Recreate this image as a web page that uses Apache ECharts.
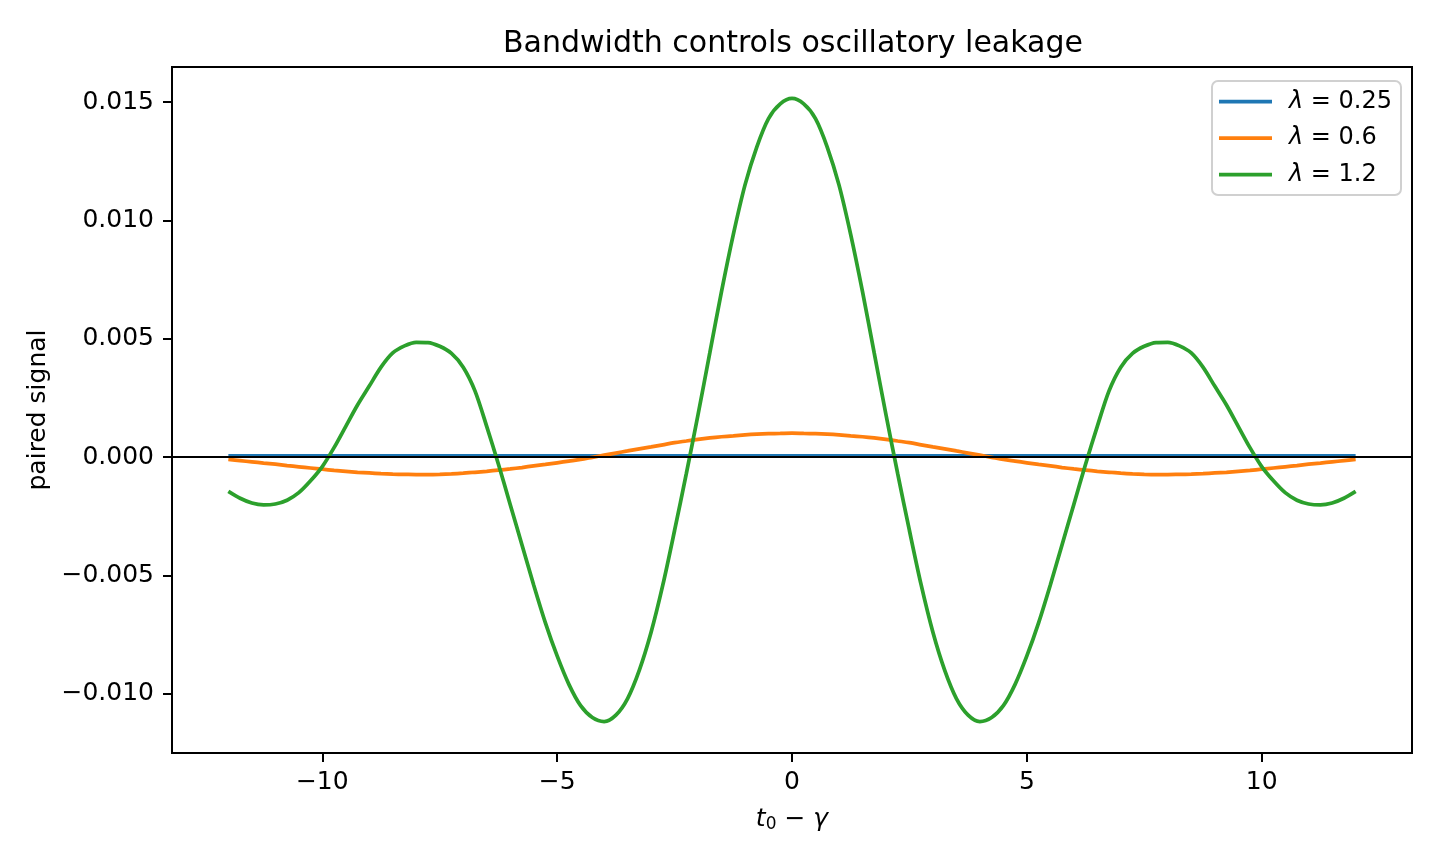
<!DOCTYPE html>
<html>
<head>
<meta charset="utf-8">
<title>Bandwidth controls oscillatory leakage</title>
<script src="https://cdn.jsdelivr.net/npm/echarts@6/dist/echarts.min.js"></script>
<style>
  html, body { margin: 0; padding: 0; background: #fff; }
  #main { width: 1440px; height: 864px; }
</style>
</head>
<body>
<div id="main"></div>
<script>
// offset t0 - gamma, sampled every 0.25
var tValues = [-12, -11.75, -11.5, -11.25, -11, -10.75, -10.5, -10.25, -10, -9.75, -9.5, -9.25,
  -9, -8.75, -8.5, -8.25, -8, -7.75, -7.5, -7.25, -7, -6.75, -6.5, -6.25,
  -6, -5.75, -5.5, -5.25, -5, -4.75, -4.5, -4.25, -4, -3.75, -3.5, -3.25,
  -3, -2.75, -2.5, -2.25, -2, -1.75, -1.5, -1.25, -1, -0.75, -0.5, -0.25, 0,
  0.25, 0.5, 0.75, 1, 1.25, 1.5, 1.75, 2, 2.25, 2.5, 2.75,
  3, 3.25, 3.5, 3.75, 4, 4.25, 4.5, 4.75, 5, 5.25, 5.5, 5.75,
  6, 6.25, 6.5, 6.75, 7, 7.25, 7.5, 7.75, 8, 8.25, 8.5, 8.75,
  9, 9.25, 9.5, 9.75, 10, 10.25, 10.5, 10.75, 11, 11.25, 11.5, 11.75, 12];

// lambda = 0.25 (practically flat, just above zero)
var lam025 = [0.00005, 0.00005, 0.00005, 0.00005, 0.00005, 0.00005, 0.00005, 0.00005, 0.00005, 0.00005, 0.00005, 0.00005,
  0.00005, 0.00005, 0.00005, 0.00005, 0.00005, 0.00005, 0.00005, 0.00005, 0.00005, 0.00005, 0.00005, 0.00005,
  0.00005, 0.00005, 0.00005, 0.00005, 0.00005, 0.00005, 0.00005, 0.00005, 0.00005, 0.00005, 0.00005, 0.00005,
  0.00005, 0.00005, 0.00005, 0.00005, 0.00005, 0.00005, 0.00005, 0.00005, 0.00005, 0.00005, 0.00005, 0.00005, 0.00005,
  0.00005, 0.00005, 0.00005, 0.00005, 0.00005, 0.00005, 0.00005, 0.00005, 0.00005, 0.00005, 0.00005,
  0.00005, 0.00005, 0.00005, 0.00005, 0.00005, 0.00005, 0.00005, 0.00005, 0.00005, 0.00005, 0.00005, 0.00005,
  0.00005, 0.00005, 0.00005, 0.00005, 0.00005, 0.00005, 0.00005, 0.00005, 0.00005, 0.00005, 0.00005, 0.00005,
  0.00005, 0.00005, 0.00005, 0.00005, 0.00005, 0.00005, 0.00005, 0.00005, 0.00005, 0.00005, 0.00005, 0.00005, 0.00005];

// lambda = 0.6
var lam06 = [-0.0001, -0.00015, -0.0002, -0.00025, -0.0003, -0.00036, -0.00041, -0.00046, -0.00051, -0.00056, -0.0006, -0.00064,
  -0.00067, -0.0007, -0.00072, -0.00073, -0.00074, -0.00074, -0.00073, -0.00071, -0.00068, -0.00064, -0.0006, -0.00055,
  -0.0005, -0.00044, -0.00037, -0.00031, -0.00024, -0.00017, -0.0001, -0.00001, 0.00008, 0.00017, 0.00026, 0.00035,
  0.00043, 0.00052, 0.00061, 0.00068, 0.00075, 0.00081, 0.00086, 0.0009, 0.00094, 0.00097, 0.00099, 0.001, 0.00101,
  0.001, 0.00099, 0.00097, 0.00094, 0.0009, 0.00086, 0.00081, 0.00075, 0.00068, 0.00061, 0.00052,
  0.00043, 0.00035, 0.00026, 0.00017, 0.00008, -0.00001, -0.0001, -0.00017, -0.00024, -0.00031, -0.00037, -0.00044,
  -0.0005, -0.00055, -0.0006, -0.00064, -0.00068, -0.00071, -0.00073, -0.00074, -0.00074, -0.00073, -0.00072, -0.0007,
  -0.00067, -0.00064, -0.0006, -0.00056, -0.00051, -0.00046, -0.00041, -0.00036, -0.0003, -0.00025, -0.0002, -0.00015, -0.0001];

// lambda = 1.2
var lam12 = [-0.00145, -0.00174, -0.00194, -0.00202, -0.00198, -0.00182, -0.0015, -0.001, -0.0004, 0.0004, 0.0013, 0.0022,
  0.003, 0.0038, 0.0044, 0.0047, 0.00485, 0.00484, 0.00468, 0.00438, 0.0038, 0.0028, 0.0013, -0.0003,
  -0.002, -0.0037, -0.0054, -0.007, -0.0084, -0.0096, -0.0105, -0.011, -0.01117, -0.0109, -0.0102, -0.009,
  -0.0074, -0.0054, -0.0031, -0.0007, 0.0018, 0.0044, 0.007, 0.0094, 0.0115, 0.0131, 0.0143, 0.01492, 0.01515,
  0.01492, 0.0143, 0.0131, 0.0115, 0.0094, 0.007, 0.0044, 0.0018, -0.0007, -0.0031, -0.0054,
  -0.0074, -0.009, -0.0102, -0.0109, -0.01117, -0.011, -0.0105, -0.0096, -0.0084, -0.007, -0.0054, -0.0037,
  -0.002, -0.0003, 0.0013, 0.0028, 0.0038, 0.00438, 0.00468, 0.00484, 0.00485, 0.0047, 0.0044, 0.0038,
  0.003, 0.0022, 0.0013, 0.0004, -0.0004, -0.001, -0.0015, -0.00182, -0.00198, -0.00202, -0.00194, -0.00174, -0.00145];

var seriesNames = ['λ = 0.25', 'λ = 0.6', 'λ = 1.2'];
var seriesColors = ['#1f77b4', '#ff7f0e', '#2ca02c'];
var xTicks = [-10, -5, 0, 5, 10];
var yTicks = [-0.01, -0.005, 0, 0.005, 0.01, 0.015];

var FONT = 'DejaVu Sans';

function pairs(vals) {
  return tValues.map(function (t, i) { return [t, vals[i]]; });
}
function minus(s) { return s.replace('-', '\u2212'); }

var chart = echarts.init(document.getElementById('main'), null, { renderer: 'canvas' });

var allVals = [lam025, lam06, lam12];
var series = allVals.map(function (vals, k) {
  return {
    name: seriesNames[k],
    type: 'line',
    data: pairs(vals),
    smooth: 0.3,
    showSymbol: false,
    symbol: 'none',
    animation: false,
    lineStyle: { color: seriesColors[k], width: 3.75 },
    itemStyle: { color: seriesColors[k] },
    z: 2 + k
  };
});
// black zero line (axhline)
series[2].markLine = {
  silent: true,
  symbol: 'none',
  label: { show: false },
  lineStyle: { color: '#000', width: 2, type: 'solid' },
  data: [{ yAxis: 0 }],
  animation: false
};

chart.setOption({
  backgroundColor: '#fff',
  animation: false,
  title: {
    text: 'Bandwidth controls oscillatory leakage',
    left: 788,
    top: 24,
    textAlign: 'center',
    textStyle: { fontFamily: FONT, fontSize: 30, fontWeight: 'normal', color: '#000' }
  },
  legend: {
    right: 39,
    top: 81,
    orient: 'vertical',
    padding: [8, 9, 8, 7],
    itemGap: 11.5,
    itemWidth: 53,
    itemHeight: 3.75,
    icon: 'rect',
    borderColor: '#d0d0d0',
    borderWidth: 2,
    borderRadius: 6,
    backgroundColor: 'rgba(255,255,255,0.8)',
    data: seriesNames,
    formatter: function (name) {
      return name.replace('λ', '{i|λ}');
    },
    textStyle: {
      fontFamily: FONT, fontSize: 24, color: '#000', lineHeight: 25,
      padding: [0, 0, 0, 12],
      rich: { i: { fontFamily: FONT, fontSize: 24, fontStyle: 'italic', color: '#000' } }
    }
  },
  grid: {
    left: 172, right: 28, top: 67, bottom: 111,
    show: true, borderColor: '#000', borderWidth: 2, backgroundColor: 'transparent'
  },
  xAxis: {
    type: 'value',
    min: -13.2,
    max: 13.2,
    name: '{i|t}{s|0}{n| \u2212 }{i|γ}',
    nameLocation: 'middle',
    nameGap: 53,
    nameTextStyle: {
      fontFamily: FONT, fontSize: 25, color: '#000',
      rich: {
        i: { fontFamily: FONT, fontSize: 25, fontStyle: 'italic', color: '#000' },
        s: { fontFamily: FONT, fontSize: 17, color: '#000', verticalAlign: 'bottom', padding: [10, 0, 0, 0] },
        n: { fontFamily: FONT, fontSize: 25, color: '#000' }
      }
    },
    splitLine: { show: false },
    axisLine: { show: true, onZero: false, lineStyle: { color: '#000', width: 2 } },
    axisTick: { show: true, inside: false, length: 9, customValues: xTicks, lineStyle: { color: '#000', width: 2 } },
    axisLabel: {
      customValues: xTicks,
      margin: 17,
      fontFamily: FONT, fontSize: 25, color: '#000',
      formatter: function (v) { return minus(String(v)); }
    }
  },
  yAxis: {
    type: 'value',
    min: -0.0125,
    max: 0.01648,
    name: 'paired signal',
    nameLocation: 'middle',
    nameGap: 118,
    nameRotate: 90,
    nameTextStyle: { fontFamily: FONT, fontSize: 25, color: '#000' },
    splitLine: { show: false },
    axisLine: { show: true, onZero: false, lineStyle: { color: '#000', width: 2 } },
    axisTick: { show: true, inside: false, length: 9, customValues: yTicks, lineStyle: { color: '#000', width: 2 } },
    axisLabel: {
      customValues: yTicks,
      margin: 18,
      fontFamily: FONT, fontSize: 25, color: '#000',
      formatter: function (v) { return minus(v.toFixed(3)); }
    }
  },
  series: series
});
</script>
</body>
</html>
